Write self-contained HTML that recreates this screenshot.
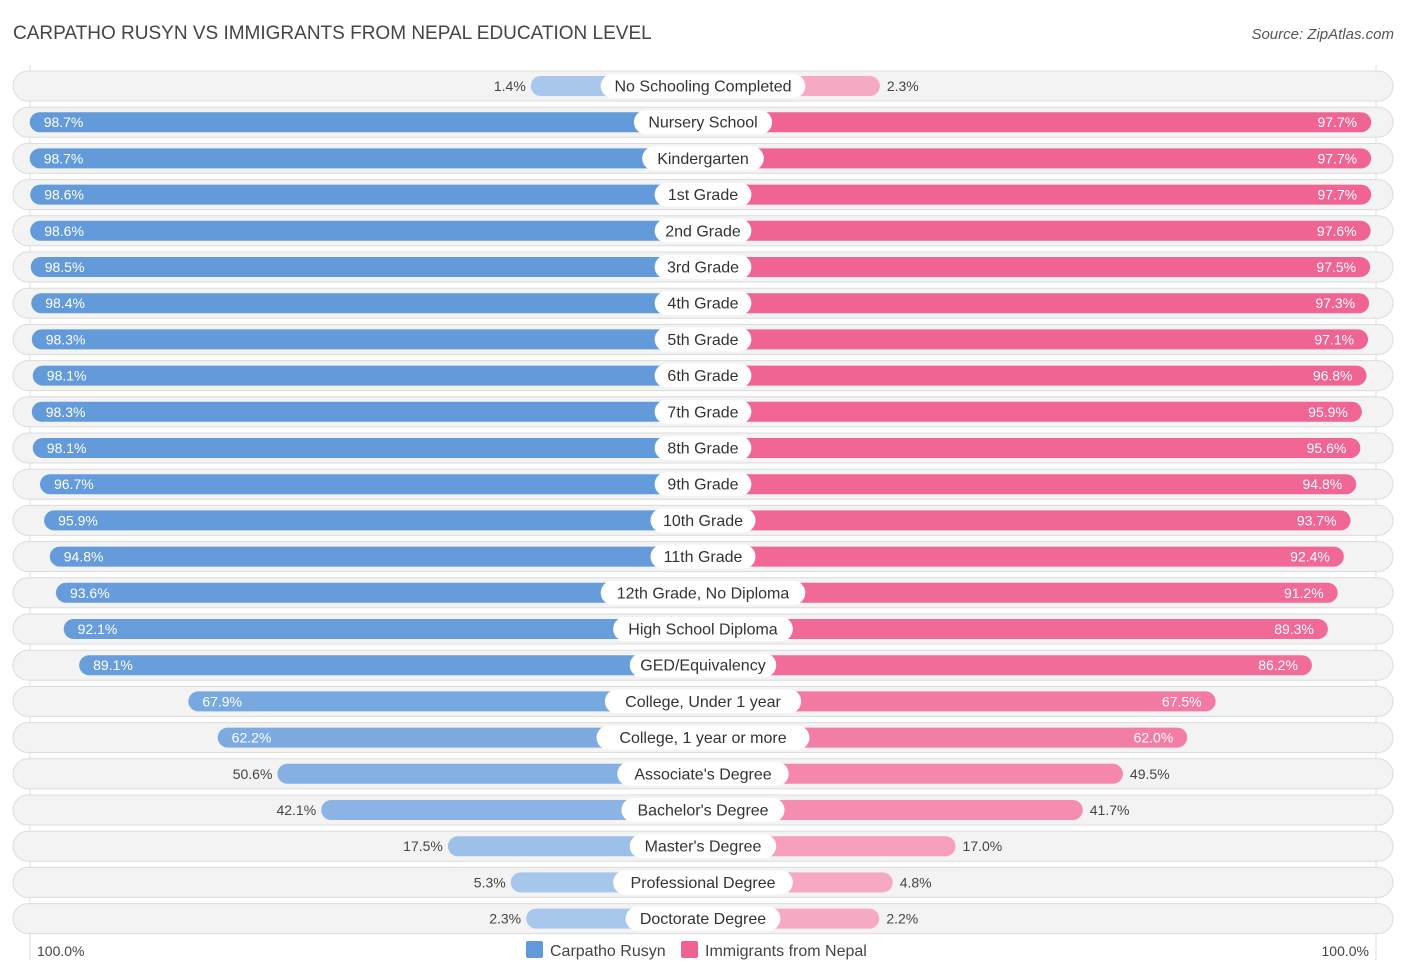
<!DOCTYPE html>
<html><head><meta charset="utf-8"><style>
body{margin:0;background:#fff;font-family:"Liberation Sans",sans-serif}
</style></head><body>
<svg id="c" width="1406" height="975" xmlns="http://www.w3.org/2000/svg" font-family="Liberation Sans, sans-serif">
<text x="13" y="39" font-size="19" fill="#444">CARPATHO RUSYN VS IMMIGRANTS FROM NEPAL EDUCATION LEVEL</text>
<text x="1394" y="39" font-size="15" fill="#555" font-style="italic" text-anchor="end">Source: ZipAtlas.com</text>
<line x1="30" y1="65" x2="30" y2="960" stroke="#ddd"/>
<line x1="1376" y1="65" x2="1376" y2="960" stroke="#ddd"/>
<g id="rows"></g>
<text x="37" y="956" font-size="14" fill="#444">100.0%</text>
<text x="1369" y="956" font-size="14" fill="#444" text-anchor="end">100.0%</text>
<rect x="526" y="941" width="17" height="17" rx="2" fill="#6199da"/>
<text x="550" y="956" font-size="16" fill="#444">Carpatho Rusyn</text>
<rect x="681" y="941" width="17" height="17" rx="2" fill="#f06292"/>
<text x="705" y="956" font-size="16" fill="#444">Immigrants from Nepal</text>
</svg>
<script>
const categories=["No Schooling Completed","Nursery School","Kindergarten","1st Grade","2nd Grade","3rd Grade","4th Grade","5th Grade","6th Grade","7th Grade","8th Grade","9th Grade","10th Grade","11th Grade","12th Grade, No Diploma","High School Diploma","GED/Equivalency","College, Under 1 year","College, 1 year or more","Associate's Degree","Bachelor's Degree","Master's Degree","Professional Degree","Doctorate Degree"];
const carpatho=[1.4,98.7,98.7,98.6,98.6,98.5,98.4,98.3,98.1,98.3,98.1,96.7,95.9,94.8,93.6,92.1,89.1,67.9,62.2,50.6,42.1,17.5,5.3,2.3];
const nepal=[2.3,97.7,97.7,97.7,97.6,97.5,97.3,97.1,96.8,95.9,95.6,94.8,93.7,92.4,91.2,89.3,86.2,67.5,62.0,49.5,41.7,17.0,4.8,2.2];
const NS="http://www.w3.org/2000/svg";
const cx=703, y0=86, dy=36.2;
function len(v){return 165+5.15*v;}
function mix(a,b,t){return "rgb("+a.map((x,i)=>Math.round(b[i]+(x-b[i])*t)).join(",")+")";}
function blue(v){return mix([97,153,218],[170,200,236],v/100);}
function pink(v){return mix([240,98,146],[247,172,197],v/100);}
const g=document.getElementById("rows");
function el(tag,attrs,parent){const e=document.createElementNS(NS,tag);for(const k in attrs)e.setAttribute(k,attrs[k]);parent.appendChild(e);return e;}
categories.forEach((cat,i)=>{
  const y=y0+i*dy;
  const row=el("g",{},g);
  
  
  const bg=el("rect",{x:13,y:y-15,width:1380,height:30,rx:15,fill:"#f3f3f3",stroke:"#dcdcdc","stroke-width":1},row);
  
  
  const lv=carpatho[i], rv=nepal[i];
  const lw=len(lv), rw=len(rv);
  const lb=el("rect",{x:cx-lw,y:y-10,width:lw,height:20,rx:10,fill:blue(lv)},row);
  
  
  const rb=el("rect",{x:cx,y:y-10,width:rw,height:20,rx:10,fill:pink(rv)},row);
  
  
  const lt=el("text",{y:y+5,"font-size":14},row);
  lt.textContent=lv.toFixed(1)+"%";
  
  
  if(lv>60){lt.setAttribute("x",cx-lw+14);lt.setAttribute("fill","#fff");}
  else{lt.setAttribute("x",cx-lw-5);lt.setAttribute("text-anchor","end");lt.setAttribute("fill","#444");}
  const rt=el("text",{y:y+5,"font-size":14},row);
  rt.textContent=rv.toFixed(1)+"%";
  
  
  if(rv>60){rt.setAttribute("x",cx+rw-14);rt.setAttribute("text-anchor","end");rt.setAttribute("fill","#fff");}
  else{rt.setAttribute("x",cx+rw+7);rt.setAttribute("fill","#444");}
  const tw=cat.length*8.3+22;
  const pill=el("rect",{x:cx-tw/2,y:y-12,width:tw,height:24,rx:12,fill:"#fff"},row);
  
  
  const ct=el("text",{x:cx,y:y+5.5,"font-size":16,fill:"#333","text-anchor":"middle"},row);
  ct.textContent=cat;
  
  
});
</script>
</body></html>
